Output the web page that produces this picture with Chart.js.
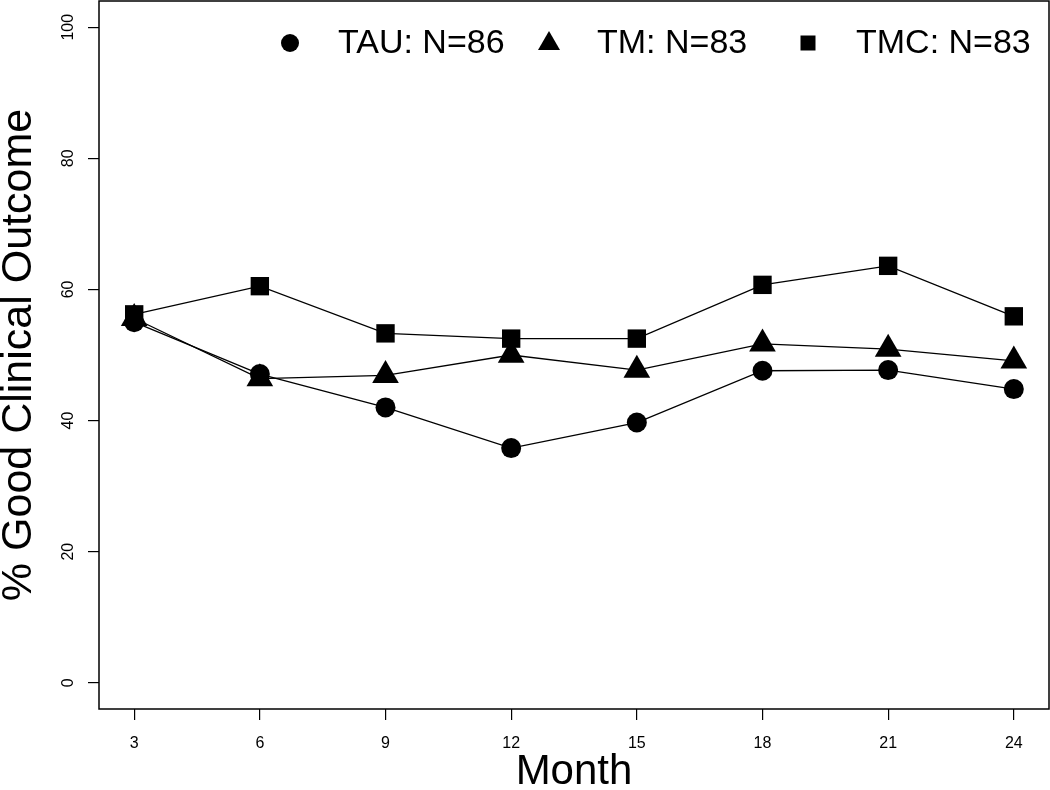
<!DOCTYPE html>
<html>
<head>
<meta charset="utf-8">
<script src="https://cdn.jsdelivr.net/npm/chart.js@4/dist/chart.umd.min.js"></script>
<style>
  body { margin: 0; background: #fff; }
  #wrap { width: 1050px; height: 790px; }
</style>
</head>
<body>
<div id="wrap"><canvas id="outcome" width="1050" height="790"></canvas></div>
<script>
// months of follow-up and % good clinical outcome per group
const months = [3, 6, 9, 12, 15, 18, 21, 24];
const tau = [55.0, 47.1, 42.0, 35.8, 39.7, 47.6, 47.7, 44.8];
const tm = [55.6, 46.4, 46.9, 50.0, 47.7, 51.7, 50.9, 49.1];
const tmc = [56.2, 60.5, 53.3, 52.5, 52.5, 60.7, 63.6, 55.9];
const yTicks = [0, 20, 40, 60, 80, 100];
const groupLabels = ['TAU: N=86', 'TM: N=83', 'TMC: N=83'];

const FONT = "'Liberation Sans', Arial, Helvetica, sans-serif";

function toPoints(vals) {
  return months.map((m, i) => ({ x: m, y: vals[i] }));
}

// box around the plot + R-style legend in the top right
const boxAndLegend = {
  id: 'boxAndLegend',
  afterDraw(chart) {
    const { ctx, chartArea } = chart;
    ctx.save();
    ctx.strokeStyle = '#000';
    ctx.lineWidth = 1.5;
    ctx.strokeRect(chartArea.left, chartArea.top, chartArea.right - chartArea.left, chartArea.bottom - chartArea.top);

    const y = chartArea.top + 42;
    ctx.fillStyle = '#000';
    ctx.font = '34px ' + FONT;
    ctx.textBaseline = 'middle';
    ctx.textAlign = 'left';
    chart.data.datasets.forEach((ds, i) => {
      const mx = chartArea.right - 241 - (2 - i) * 259;
      ctx.beginPath();
      if (ds.pointStyle === 'circle') {
        ctx.arc(mx, y, 9, 0, Math.PI * 2);
      } else if (ds.pointStyle === 'triangle') {
        ctx.moveTo(mx, y - 12);
        ctx.lineTo(mx + 11, y + 7);
        ctx.lineTo(mx - 11, y + 7);
        ctx.closePath();
      } else {
        ctx.rect(mx - 7.5, y - 7.5, 15, 15);
      }
      ctx.fill();
      ctx.fillText(ds.label, mx + 48, y + 1);
    });
    ctx.restore();
  }
};

const ctx = document.getElementById('outcome').getContext('2d');
const chart = new Chart(ctx, {
  type: 'line',
  data: {
    datasets: [
      {
        label: groupLabels[0],
        data: toPoints(tau),
        pointStyle: 'circle',
        pointRadius: 10,
        pointHoverRadius: 10
      },
      {
        label: groupLabels[1],
        data: toPoints(tm),
        pointStyle: 'triangle',
        pointRadius: 15.4,
        pointHoverRadius: 15.4
      },
      {
        label: groupLabels[2],
        data: toPoints(tmc),
        pointStyle: 'rect',
        pointRadius: 13,
        pointHoverRadius: 13
      }
    ].map(d => Object.assign(d, {
      borderColor: '#000',
      backgroundColor: '#000',
      pointBackgroundColor: '#000',
      pointBorderColor: '#000',
      pointBorderWidth: 0,
      borderWidth: 1.3,
      tension: 0,
      fill: false
    }))
  },
  options: {
    responsive: false,
    animation: false,
    layout: { autoPadding: false, padding: { top: 1, right: 1, left: 0, bottom: 0 } },
    plugins: {
      legend: { display: false },
      tooltip: { enabled: false }
    },
    scales: {
      x: {
        type: 'linear',
        min: 2.16,
        max: 24.84,
        afterBuildTicks: (s) => { s.ticks = months.map(v => ({ value: v })); },
        afterFit: (s) => { s.height = 81; s.paddingLeft = 0; s.paddingRight = 0; },
        border: { display: false },
        grid: { drawOnChartArea: false, drawTicks: true, tickLength: 11, color: '#000', lineWidth: 1.2 },
        ticks: { color: '#000', font: { family: FONT, size: 16 }, padding: 14, maxRotation: 0 },
        title: {
          display: true,
          text: 'Month',
          color: '#000',
          font: { family: FONT, size: 42, lineHeight: 0.86 },
          padding: 0
        }
      },
      y: {
        type: 'linear',
        min: -4,
        max: 104,
        afterBuildTicks: (s) => { s.ticks = yTicks.map(v => ({ value: v })); },
        afterFit: (s) => { s.width = 99; s.paddingTop = 0; s.paddingBottom = 0; },
        border: { display: false },
        grid: { drawOnChartArea: false, drawTicks: true, tickLength: 11, color: '#000', lineWidth: 1.2 },
        ticks: { color: '#000', font: { family: FONT, size: 16 }, padding: 6, minRotation: 90, maxRotation: 90, crossAlign: 'center' },
        title: {
          display: true,
          text: '% Good Clinical Outcome',
          color: '#000',
          font: { family: FONT, size: 43, lineHeight: 0.88 },
          padding: 0
        }
      }
    }
  },
  plugins: [boxAndLegend]
});
</script>
</body>
</html>
